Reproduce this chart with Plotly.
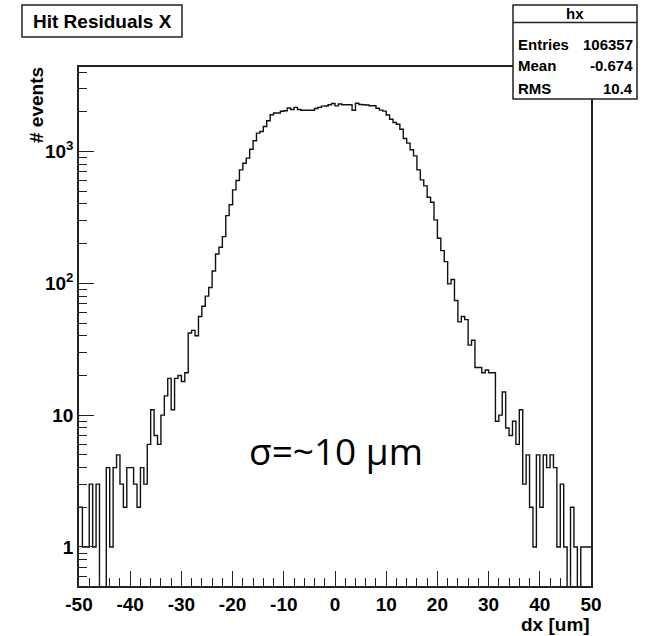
import numpy as np
import plotly.graph_objects as go

# histogram "hx": 150 bins from -50 to 50 um
x_lo, x_hi, n_bins = -50.0, 50.0, 150
counts = [
    2, 1, 1, 3, 1, 3, 0, 0, 4, 1,
    4, 5, 3, 2, 4, 4, 3, 2, 4, 3,
    6, 11, 7, 6, 10, 14, 19, 11, 19, 20,
    18, 21, 42, 44, 40, 56, 67, 80, 93, 124,
    167, 188, 226, 326, 394, 512, 603, 726, 815, 890,
    1041, 1205, 1378, 1419, 1549, 1711, 1900, 1958, 1958, 2018,
    2040, 2136, 2080, 2160, 2080, 2053, 2053, 2053, 2053, 2120,
    2160, 2210, 2215, 2265, 2310, 2220, 2290, 2265, 2265, 2260,
    2053, 2320, 2270, 2265, 2250, 2221, 2221, 2130, 2060, 2025,
    1890, 1755, 1660, 1610, 1475, 1255, 1157, 1030, 927, 726,
    609, 549, 450, 412, 303, 220, 177, 146, 99, 107,
    74, 51, 56, 53, 34, 37, 23, 23, 21, 22,
    21, 21, 9, 10, 15, 8, 7, 9, 6, 11,
    3, 5, 2, 1, 5, 2, 5, 4, 5, 4,
    1, 3, 1, 0, 2, 1, 0, 1, 1, 1,
]

stat_names = ["Entries", "Mean", "RMS"]
stat_values = ["106357", "-0.674", "10.4"]

x_tickvals = [-50, -40, -30, -20, -10, 0, 10, 20, 30, 40, 50]
x_ticktext = ["-50", "-40", "-30", "-20", "-10", "0", "10", "20", "30", "40", "50"]
y_tickvals = [1, 10, 100, 1000]
y_ticktext = ["1", "10", "10<sup>2</sup>", "10<sup>3</sup>"]
y_minor = [0.6, 0.7, 0.8, 0.9] + [m * d for d in (1, 10, 100) for m in range(2, 10)] + [2000, 3000, 4000]

ROOT_FONT = "Liberation Sans Narrow, Arial Narrow, Liberation Sans, Arial"
W, H = 647, 636
L, R, T, B = 79, 591, 67, 586


def px(xp):
    return (xp - L) / (R - L)


def py(yp):
    return (B - yp) / (B - T)


edges = np.linspace(x_lo, x_hi, n_bins + 1)
c = np.array(counts, dtype=float)
# empty bins fall below the axis, like ROOT draws them
c_draw = np.where(c > 0, c, 1e-2)
xs = list(edges[:-1]) + [edges[-1]]
ys = list(c_draw) + [c_draw[-1]]

trace = go.Scatter(x=xs, y=ys, mode='lines', line_shape='hv',
                   line=dict(color='#111111', width=1.4),
                   hoverinfo='skip', showlegend=False)

tick_font = dict(family=ROOT_FONT, size=19, color='black', weight='bold')

layout = go.Layout(
    width=W, height=H,
    margin=dict(l=L, r=W - R, t=T, b=H - B, pad=0),
    paper_bgcolor='white', plot_bgcolor='white',
    xaxis=dict(range=[x_lo, x_hi], showgrid=False, zeroline=False,
               showline=True, linecolor='#222', linewidth=1.5, mirror=True,
               ticks='inside', ticklen=15, tickwidth=1.2, tickcolor='#222',
               tickmode='array', tickvals=x_tickvals, ticktext=x_ticktext,
               minor=dict(ticks='inside', ticklen=8, tickwidth=1.2, tickcolor='#222',
                          dtick=2, tick0=-50, showgrid=False),
               tickfont=tick_font),
    yaxis=dict(type='log', range=[-0.296, 3.641], showgrid=False, zeroline=False,
               showline=True, linecolor='#222', linewidth=1.5, mirror=True,
               ticks='inside', ticklen=15, tickwidth=1.2, tickcolor='#222',
               tickmode='array', tickvals=y_tickvals, ticktext=y_ticktext,
               minor=dict(ticks='inside', ticklen=8, tickwidth=1.2, tickcolor='#222',
                          tickmode='array', tickvals=y_minor, showgrid=False),
               tickfont=tick_font),
)

fig = go.Figure(data=[trace], layout=layout)

shape_line = dict(color='#222', width=1.5)
# title box
fig.add_shape(type='rect', xref='paper', yref='paper',
              x0=px(22), x1=px(182), y0=py(37), y1=py(5), line=shape_line, fillcolor='white')
fig.add_annotation(xref='paper', yref='paper', x=px(102), y=py(21), text='Hit Residuals X',
                   showarrow=False, xanchor='center', yanchor='middle',
                   font=dict(family=ROOT_FONT, size=19, color='black', weight='bold'))

# stats box
fig.add_shape(type='rect', xref='paper', yref='paper',
              x0=px(513), x1=px(637), y0=py(99), y1=py(5), line=shape_line, fillcolor='white')
fig.add_shape(type='line', xref='paper', yref='paper',
              x0=px(513), x1=px(637), y0=py(22.5), y1=py(22.5), line=shape_line)
stat_font = dict(family=ROOT_FONT, size=15, color='black', weight='bold')
fig.add_annotation(xref='paper', yref='paper', x=px(575), y=py(13.5), text='hx',
                   showarrow=False, xanchor='center', yanchor='middle', font=stat_font)
for i, (name, val) in enumerate(zip(stat_names, stat_values)):
    yy = py(44 + i * 22)
    fig.add_annotation(xref='paper', yref='paper', x=px(516), y=yy, text=name,
                       showarrow=False, xanchor='left', yanchor='middle', font=stat_font)
    fig.add_annotation(xref='paper', yref='paper', x=px(635), y=yy, text=val,
                       showarrow=False, xanchor='right', yanchor='middle', font=stat_font)

# axis titles
fig.add_annotation(xref='paper', yref='paper', x=px(37), y=py(65), text='# events',
                   textangle=-90, showarrow=False, xanchor='center', yanchor='top',
                   font=dict(family=ROOT_FONT, size=19, color='black', weight='bold'))
fig.add_annotation(xref='paper', yref='paper', x=px(592), y=py(624), text='dx [um]',
                   showarrow=False, xanchor='right', yanchor='middle',
                   font=dict(family=ROOT_FONT, size=19, color='black', weight='bold'))

# resolution note
fig.add_annotation(xref='paper', yref='paper', x=px(336), y=py(450), text='σ=~10 μm',
                   showarrow=False, xanchor='center', yanchor='middle',
                   font=dict(family='Open Sans', size=37, color='black'))

fig.write_html("out.html", config={'displayModeBar': False},
               post_script="document.body.style.margin='0';")
